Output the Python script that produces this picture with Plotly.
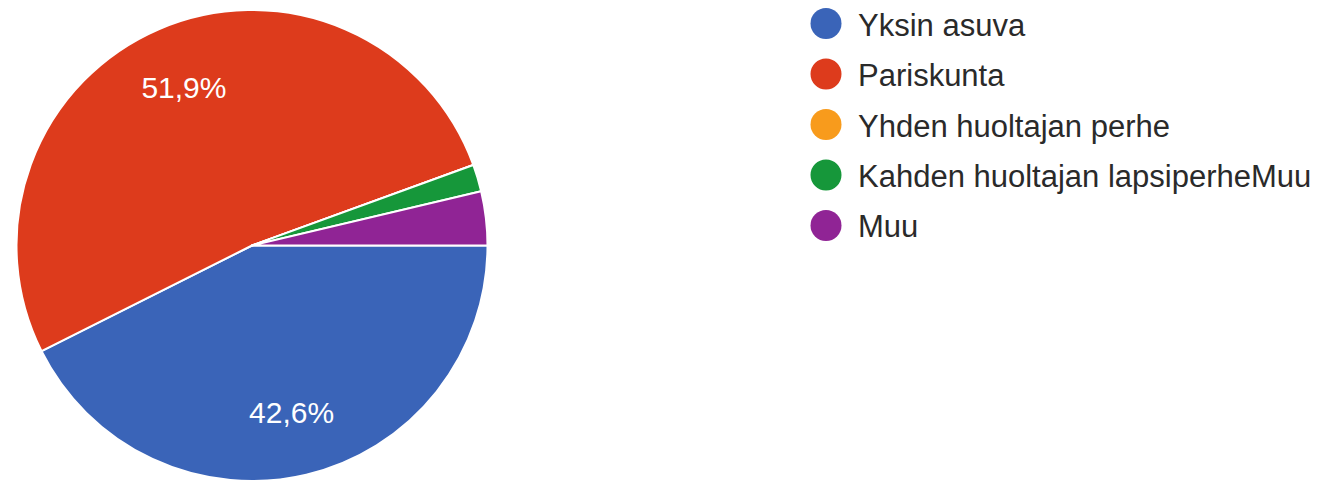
import plotly.graph_objects as go

labels = ["Yksin asuva", "Pariskunta", "Yhden huoltajan perhe",
          "Kahden huoltajan lapsiperheMuu", "Muu"]
counts = [23, 28, 0, 1, 2]
colors = ["#3a64b8", "#dd3b1c", "#f89b1c", "#16973a", "#902495"]
# percentage labels shown only on the large slices (as in the source)
show_label = [True, True, False, False, False]

W, H = 1323, 483
OFF = 8  # page body margin of the browser
pie_dom = dict(x=[(16 - OFF) / W, (488 - OFF) / W],
               y=[(H - (481 - OFF)) / H, (H - (10 - OFF)) / H])
font_family = "Liberation Sans, Arial, sans-serif"

fig = go.Figure()

# the pie itself
fig.add_trace(go.Pie(
    labels=labels, values=counts, sort=False,
    direction="clockwise", rotation=90,
    marker=dict(colors=colors, line=dict(color="white", width=2)),
    textinfo="none", showlegend=False,
    hoverinfo="label+percent", domain=pie_dom,
))

# transparent ring on top that carries the percentage labels
fig.add_trace(go.Pie(
    labels=labels, values=counts, sort=False,
    direction="clockwise", rotation=90, hole=0.46,
    marker=dict(colors=["rgba(0,0,0,0)"] * len(labels),
                line=dict(color="rgba(0,0,0,0)", width=0)),
    texttemplate=["%{percent:.1%}" if s else "" for s in show_label],
    textposition="inside", insidetextorientation="horizontal",
    textfont=dict(family=font_family, size=30, color="white"),
    showlegend=False, hoverinfo="skip", domain=pie_dom,
))

# legend (large round bullets + labels), laid out row by row
leg_x0 = 826 - OFF      # bullet centre, px from left
leg_y0 = 23.5 - OFF     # first row centre, px from top
leg_dy = 50.5           # row pitch, px
leg_r = 15.5            # bullet radius, px
leg_tx = 856 - OFF      # label start, px from left
shapes, annotations = [], []
for i, (lab, col) in enumerate(zip(labels, colors)):
    cy = leg_y0 + i * leg_dy
    shapes.append(dict(
        type="circle", xref="paper", yref="paper",
        x0=(leg_x0 - leg_r) / W, x1=(leg_x0 + leg_r) / W,
        y0=(H - cy - leg_r) / H, y1=(H - cy + leg_r) / H,
        fillcolor=col, line=dict(width=0), layer="above",
    ))
    annotations.append(dict(
        text=lab, xref="paper", yref="paper",
        x=leg_tx / W, y=(H - cy - 1.5) / H, xanchor="left", yanchor="middle",
        showarrow=False,
        font=dict(family=font_family, size=31, color="#2a2a2a"),
    ))

fig.update_layout(
    width=W, height=H, autosize=False,
    margin=dict(l=0, r=0, t=0, b=0),
    paper_bgcolor="white", plot_bgcolor="white",
    separators=",.", showlegend=False,
    shapes=shapes, annotations=annotations,
)

fig.write_html("out.html")
